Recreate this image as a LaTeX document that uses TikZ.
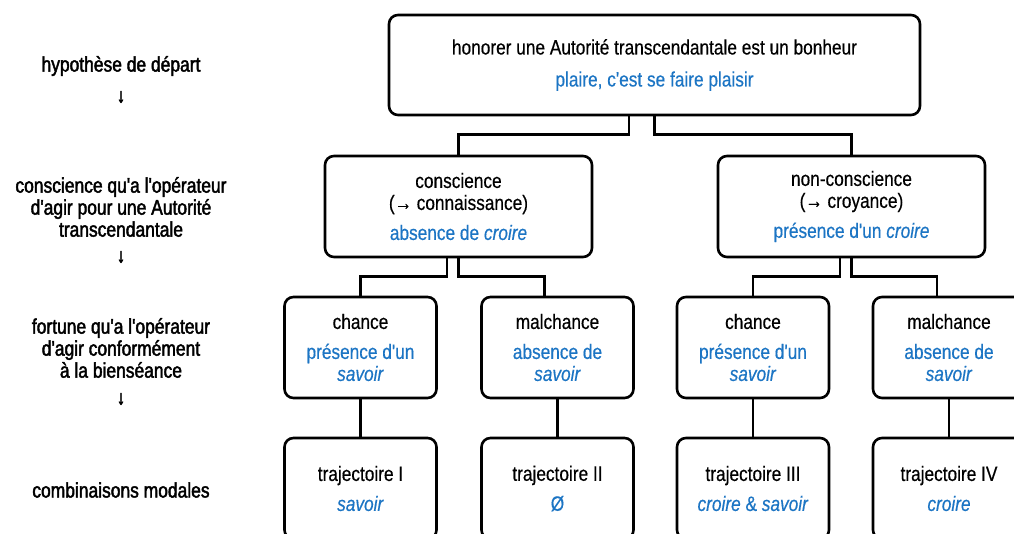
\documentclass[tikz,border=0pt]{standalone}
\usepackage{fontspec}
\setmainfont{Liberation Sans}[FakeStretch=0.83,FakeBold=0.4,Ligatures=TeXOff]
\newfontfamily\lblfont{Liberation Sans}[FakeStretch=0.83,FakeBold=2,Ligatures=TeXOff]
\definecolor{tblue}{RGB}{28,117,196}
\begin{document}
\begin{tikzpicture}[x=1pt,y=-1pt,
  box/.style={draw=black,line width=2.6pt,rounded corners=9pt,inner sep=0pt,
    align=center,font=\fontsize{20.8}{22}\selectfont,text=black},
  wide/.style={minimum width=531pt,minimum height=100pt},
  mid/.style={minimum width=267pt,minimum height=101pt},
  small/.style={minimum width=152pt,minimum height=101pt},
  link/.style={line width=2.6pt,line cap=butt},
  lbl/.style={align=center,font=\lblfont\fontsize{21}{22}\selectfont,text=black},
  arr/.style={font=\lblfont\fontsize{20}{20}\selectfont,text=black}]
\fill[white] (0,0) rectangle (1014,534);
\useasboundingbox (0,0) rectangle (1014,534);
\clip (0,0) rectangle (1014,534);

% boxes
\node[box,wide] (top) at (654.5,65) {honorer une Autorité transcendantale est un bonheur\\[10pt]
  \textcolor{tblue}{plaire, c'est se faire plaisir}};
\node[box,mid] (cons) at (458.5,206.5) {conscience\\(→ connaissance)\\[8pt]
  \textcolor{tblue}{absence de \textit{croire}}};
\node[box,mid] (ncons) at (851.5,206.5) {non-conscience\\(→ croyance)\\[8pt]
  \textcolor{tblue}{présence d'un \textit{croire}}};
\node[box,small] (ch1) at (360.5,347.5) {chance\\[8pt]
  \textcolor{tblue}{présence d'un}\\\textcolor{tblue}{\textit{savoir}}};
\node[box,small] (mal1) at (557.5,347.5) {malchance\\[8pt]
  \textcolor{tblue}{absence de}\\\textcolor{tblue}{\textit{savoir}}};
\node[box,small] (ch2) at (753,347.5) {chance\\[8pt]
  \textcolor{tblue}{présence d'un}\\\textcolor{tblue}{\textit{savoir}}};
\node[box,small] (mal2) at (949,347.5) {malchance\\[8pt]
  \textcolor{tblue}{absence de}\\\textcolor{tblue}{\textit{savoir}}};
\node[box,small] (tr1) at (360.5,488.5) {trajectoire I\\[8pt]
  \textcolor{tblue}{\textit{savoir}}};
\node[box,small] (tr2) at (557.5,488.5) {trajectoire II\\[8pt]
  \textcolor{tblue}{Ø}};
\node[box,small] (tr3) at (753,488.5) {trajectoire III\\[8pt]
  \textcolor{tblue}{\textit{croire} \& \textit{savoir}}};
\node[box,small] (tr4) at (949,488.5) {trajectoire IV\\[8pt]
  \textcolor{tblue}{\textit{croire}}};

% connectors
\draw[link] ([xshift=-25.5pt]top.south) -- ++(0,18) -| (cons.north);
\draw[link] (top.south) -- ++(0,18) -| (ncons.north);
\draw[link] ([xshift=-11.5pt]cons.south) -- ++(0,18) -| (ch1.north);
\draw[link] (cons.south) -- ++(0,18) -| ([xshift=-13pt]mal1.north);
\draw[link] ([xshift=-11.5pt]ncons.south) -- ++(0,18) -| (ch2.north);
\draw[link] (ncons.south) -- ++(0,18) -| ([xshift=-12pt]mal2.north);
\draw[link] (ch1.south) -- (tr1.north);
\draw[link] (mal1.south) -- (tr2.north);
\draw[link] (ch2.south) -- (tr3.north);
\draw[link] (mal2.south) -- (tr4.north);

% left labels
\node[lbl] (l1) at (121,66) {hypothèse de départ};
\node[arr] (a1) at (121,97) {↓};
\node[lbl] (l2) at (121,207) {conscience qu'a l'opérateur\\d'agir pour une Autorité\\transcendantale};
\node[arr] (a2) at (121,257) {↓};
\node[lbl] (l3) at (121,348) {fortune qu'a l'opérateur\\d'agir conformément\\à la bienséance};
\node[arr] (a3) at (121,399) {↓};
\node[lbl] (l4) at (121,490) {combinaisons modales};
\end{tikzpicture}
\end{document}
